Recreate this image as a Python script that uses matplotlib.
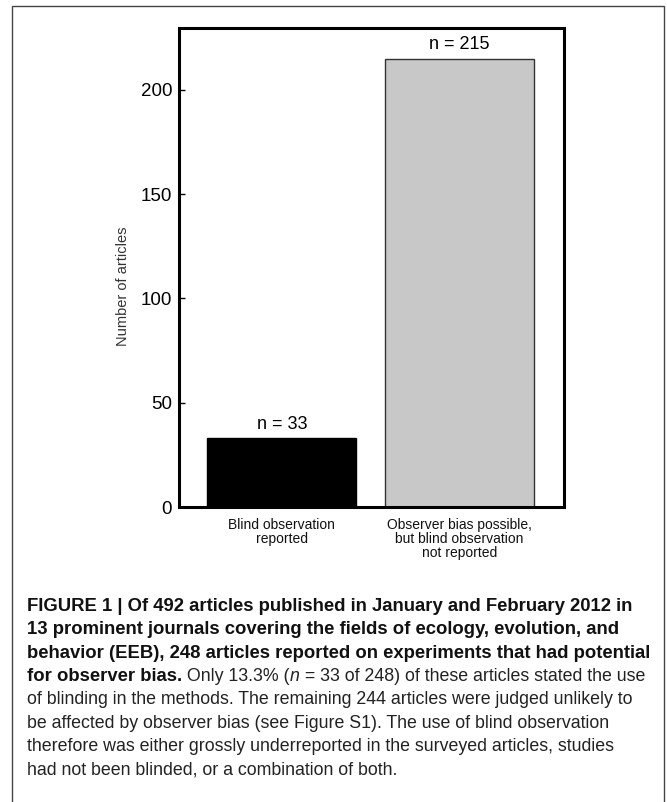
import matplotlib
matplotlib.use('Agg')
import matplotlib.pyplot as plt
from matplotlib.patches import Rectangle

# chart data
categories = ['Blind observation\nreported',
              'Observer bias possible,\nbut blind observation\nnot reported']
counts = [33, 215]
bar_colors = ['black', '#c8c8c8']
bar_edges = ['black', '#333333']
yticks = [0, 50, 100, 150, 200]
ylabel = 'Number of articles'

# caption, one list of (text, style) pieces per line
caption_lines = [
    [('FIGURE 1 | Of 492 articles published in January and February 2012 in', 'bold')],
    [('13 prominent journals covering the fields of ecology, evolution, and', 'bold')],
    [('behavior (EEB), 248 articles reported on experiments that had potential', 'bold')],
    [('for observer bias.', 'bold'), (' Only 13.3% (', 'normal'), ('n', 'italic'),
     (' = 33 of 248) of these articles stated the use', 'normal')],
    [('of blinding in the methods. The remaining 244 articles were judged unlikely to', 'normal')],
    [('be affected by observer bias (see Figure S1). The use of blind observation', 'normal')],
    [('therefore was either grossly underreported in the surveyed articles, studies', 'normal')],
    [('had not been blinded, or a combination of both.', 'normal')],
]

plt.rcParams['font.family'] = ['Liberation Sans', 'DejaVu Sans']

W, H = 667, 802
fig = plt.figure(figsize=(W / 100, H / 100), dpi=100)

# outer frame
fig.add_artist(Rectangle((12 / W, -0.01), 652 / W, 1.01 - 6 / H, transform=fig.transFigure,
                         fill=False, edgecolor='#444444', linewidth=1, clip_on=False))

ax = fig.add_axes([179 / W, 1 - 507 / H, 385 / W, 479 / H])
xpos = list(range(len(counts)))
ax.bar(xpos, counts, width=0.84, color=bar_colors, edgecolor=bar_edges, linewidth=1)
ax.set_xlim(-0.58, 1.59)
ax.set_ylim(0, 229.7)

for i, v in zip(xpos, counts):
    ax.annotate(f'n = {v}', (i, v), xytext=(0, 4), textcoords='offset points',
                ha='center', va='bottom', fontsize=13)

ax.set_yticks(yticks)
ax.set_xticks(xpos)
ax.set_xticklabels(categories, fontsize=10, color='#111111', linespacing=1.0)
ax.tick_params(axis='y', direction='in', length=4.5, width=1, labelsize=13.5, pad=5)
ax.tick_params(axis='x', length=0, pad=8)
for sp in ax.spines.values():
    sp.set_linewidth(2.2)

ax.set_ylabel(ylabel, fontsize=10.5, color='#333333')
ax.yaxis.set_label_coords(-0.128, 0.46)

# caption
renderer = fig.canvas.get_renderer()


def make_text(x, y, s, style, size):
    weight = 'bold' if style == 'bold' else 'normal'
    fstyle = 'italic' if style == 'italic' else 'normal'
    color = '#111111' if style == 'bold' else '#222222'
    return fig.text(x, y, s, fontsize=size, fontweight=weight, fontstyle=fstyle,
                    color=color, va='baseline', ha='left')


def text_width(s, style, size):
    t = make_text(0, 0, s, style, size)
    w = t.get_window_extent(renderer).width
    t.remove()
    return w


# fit the bold and the plain size to the line widths of the reference
bold_size = 12 * 625 / text_width(caption_lines[2][0][0], 'bold', 12)
plain_size = 12 * 610 / text_width(caption_lines[4][0][0], 'normal', 12)

for k, line in enumerate(caption_lines):
    base = 611 + k * 23.3
    x_px = 27
    for s, style in line:
        size = bold_size if style == 'bold' else plain_size
        t = make_text(x_px / W, 1 - base / H, s, style, size)
        x_px += t.get_window_extent(renderer).width

fig.savefig('out.png', dpi=100)
